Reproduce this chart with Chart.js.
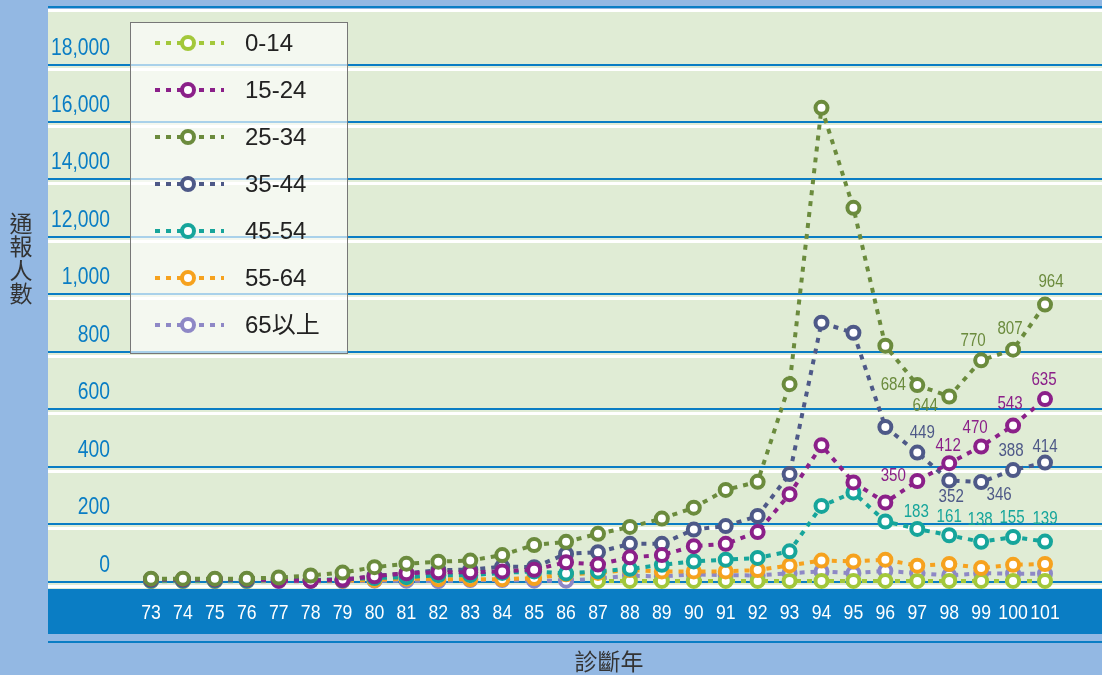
<!DOCTYPE html>
<html lang="zh-Hant">
  <head>
    <meta charset="UTF-8" />
    <title>通報人數</title>
    <script src="https://cdn.jsdelivr.net/npm/chart.js@4.4.1/dist/chart.umd.min.js"></script>
    <style>
      body { margin: 0; background: #93b8e3; }
      canvas { display: block; }
    </style>
  </head>
  <body>
    <canvas id="myChart" width="1102" height="675"></canvas>

    <script>
      // 診斷年
      const years = ["73","74","75","76","77","78","79","80","81","82","83","84","85","86","87",
                     "88","89","90","91","92","93","94","95","96","97","98","99","100","101"];
      const ageGroups = ["0-14", "15-24", "25-34", "35-44", "45-54", "55-64", "65以上"];

      // 各年齡層通報人數
      const age0_14  = [null,null,null,null,null,null,null,null,null,null,null,null,null,null,
                        2,2,2,2,2,2,2,2,2,2,2,2,2,2,2];
      const age15_24 = [8,8,8,8,3,3,7,18,29,32,32,35,41,67,59,84,92,123,131,172,304,474,345,275,350,412,470,543,635];
      const age25_34 = [10,10,10,10,14,21,31,50,62,69,73,92,127,138,166,190,219,257,319,347,687,1649,1301,821,684,644,770,807,964];
      const age35_44 = [6,6,6,6,10,3,4,20,28,40,41,52,50,96,102,131,131,181,193,228,374,901,866,538,449,352,346,388,414];
      const age45_54 = [3,3,3,3,5,5,8,12,15,22,22,30,35,28,35,44,58,70,76,82,105,263,310,209,183,161,138,155,139];
      const age55_64 = [2,2,2,2,4,3,3,5,10,8,8,8,12,25,30,40,35,35,35,40,56,73,70,76,55,61,47,58,61];
      const age65up  = [1,1,1,1,1,1,1,3,3,1,5,5,3,3,10,20,18,25,22,21,29,35,29,37,29,21,29,27,27];

      // y 軸刻度文字 (照原圖)
      const yTickLabels = ["0","200","400","600","800","1,000","12,000","14,000","16,000","18,000"];

      // 標示數值的年份 (97-101)
      const labeledYears = ["97","98","99","100","101"];

      const colors = ["#a3c83b", "#8b2089", "#6b8b3d", "#4e5988", "#16a59b", "#f6a21e", "#8e88c6"];
      const seriesData = [age0_14, age15_24, age25_34, age35_44, age45_54, age55_64, age65up];
      const drawOrder = [5, 1, 0, 2, 3, 4, 6];

      // 數值標籤位置 (相對於點)
      const labelOffsets = {
        1: [[-24, -5], [-1, -17], [-6, -18], [-3, -22], [-1, -19]],
        2: [[-24, 0], [-24, 10], [-8, -19], [-3, -21], [6, -23]],
        3: [[5, -20], [2, 17], [18, 13], [-2, -19], [0, -16]],
        4: [[-1, -17], [0, -18], [-1, -22], [-1, -19], [0, -23]],
      };

      const BLUE = "#0a7dc4";
      const GREEN = "#e0ecd5";
      const LEFT = 48, RIGHT = 1102;

      const narrowText = (ctx, text, x, y, align, size, color) => {
        ctx.save();
        ctx.font = size + 'px "Liberation Sans", Arial, sans-serif';
        ctx.fillStyle = color;
        ctx.textAlign = align;
        ctx.textBaseline = "middle";
        ctx.translate(x, y);
        ctx.scale(0.84, 1);
        ctx.fillText(text, 0, 0);
        ctx.restore();
      };

      const backgroundPlugin = {
        id: "background",
        beforeDraw(chart) {
          const ctx = chart.ctx;
          const yScale = chart.scales.y;
          const xScale = chart.scales.x;
          ctx.save();
          ctx.fillStyle = "#93b8e3";
          ctx.fillRect(0, 0, chart.width, chart.height);
          ctx.fillStyle = BLUE;
          ctx.fillRect(LEFT, 6, RIGHT - LEFT, 2);
          ctx.fillStyle = "#ffffff";
          ctx.fillRect(LEFT, 9, RIGHT - LEFT, 3);
          ctx.fillStyle = GREEN;
          ctx.fillRect(LEFT, 12, RIGHT - LEFT, 577);

          // 格線 + 刻度文字
          yScale.ticks.forEach((tick, i) => {
            const py = Math.round(yScale.getPixelForValue(tick.value));
            ctx.fillStyle = BLUE;
            ctx.fillRect(LEFT, py - 1, RIGHT - LEFT, 2);
            ctx.fillStyle = "#ffffff";
            ctx.fillRect(LEFT, py + 3, RIGHT - LEFT, 3);
            narrowText(ctx, yTickLabels[i], 110, py - 16, "right", 23, BLUE);
          });

          // x 軸色帶
          ctx.fillStyle = BLUE;
          ctx.fillRect(LEFT, 589, RIGHT - LEFT, 45);
          ctx.fillRect(LEFT, 641, RIGHT - LEFT, 2);
          years.forEach((yr, i) => {
            narrowText(ctx, yr, xScale.getPixelForValue(i), 613, "center", 21, "#ffffff");
          });

          // 軸標題
          ctx.font = '23px "Noto Sans CJK TC", sans-serif';
          ctx.fillStyle = "#333333";
          ctx.textAlign = "center";
          ctx.textBaseline = "middle";
          ctx.fillText("診斷年", 609, 661);
          ["通", "報", "人", "數"].forEach((ch, i) => {
            ctx.fillText(ch, 21, 223 + i * 23.5);
          });
          ctx.restore();
        },
        afterDraw(chart) {
          const ctx = chart.ctx;
          ctx.save();
          // 數值標籤
          Object.keys(labelOffsets).forEach((key) => {
            const ds = Number(key);
            const meta = chart.getDatasetMeta(ds);
            labeledYears.forEach((yr, k) => {
              const idx = years.indexOf(yr);
              const pt = meta.data[idx];
              const off = labelOffsets[ds][k];
              narrowText(ctx, String(seriesData[ds][idx]), pt.x + off[0], pt.y + off[1], "center", 18, colors[ds]);
            });
          });

          // 圖例
          ctx.fillStyle = "rgba(255,255,255,0.65)";
          ctx.fillRect(130.5, 22.5, 217, 331);
          ctx.strokeStyle = "#777777";
          ctx.lineWidth = 1;
          ctx.strokeRect(130.5, 22.5, 217, 331);
          ageGroups.forEach((name, i) => {
            const ly = 43 + i * 47;
            ctx.strokeStyle = colors[i];
            ctx.lineWidth = 4;
            ctx.setLineDash([5, 6]);
            ctx.beginPath();
            ctx.moveTo(155, ly);
            ctx.lineTo(224, ly);
            ctx.stroke();
            ctx.setLineDash([]);
            ctx.lineWidth = 4;
            ctx.fillStyle = "#ffffff";
            ctx.beginPath();
            ctx.arc(188, ly, 6, 0, Math.PI * 2);
            ctx.fill();
            ctx.stroke();
            ctx.fillStyle = "#222222";
            ctx.font = '24px "Liberation Sans", "Noto Sans CJK TC", sans-serif';
            ctx.textAlign = "left";
            ctx.textBaseline = "middle";
            ctx.fillText(name, 245, ly + 1);
          });
          ctx.restore();
        },
      };

      const ctx = document.getElementById("myChart").getContext("2d");
      new Chart(ctx, {
        type: "line",
        data: {
          labels: years,
          datasets: ageGroups.map((name, i) => ({
            label: name,
            data: seriesData[i],
            order: drawOrder[i],
            borderColor: colors[i],
            borderWidth: 4,
            borderDash: [5, 6],
            pointRadius: 6,
            pointBorderWidth: 4,
            pointBackgroundColor: "#ffffff",
            pointBorderColor: colors[i],
            tension: 0,
            fill: false,
            clip: false,
          })),
        },
        options: {
          responsive: false,
          animation: false,
          layout: { padding: { left: 151, right: 57, top: 64.5, bottom: 93.5 } },
          scales: {
            x: { display: false, offset: false },
            y: { display: false, min: 0, max: 1800, ticks: { stepSize: 200 } },
          },
          plugins: {
            legend: { display: false },
            tooltip: { enabled: false },
          },
        },
        plugins: [backgroundPlugin],
      });
    </script>
  </body>
</html>
